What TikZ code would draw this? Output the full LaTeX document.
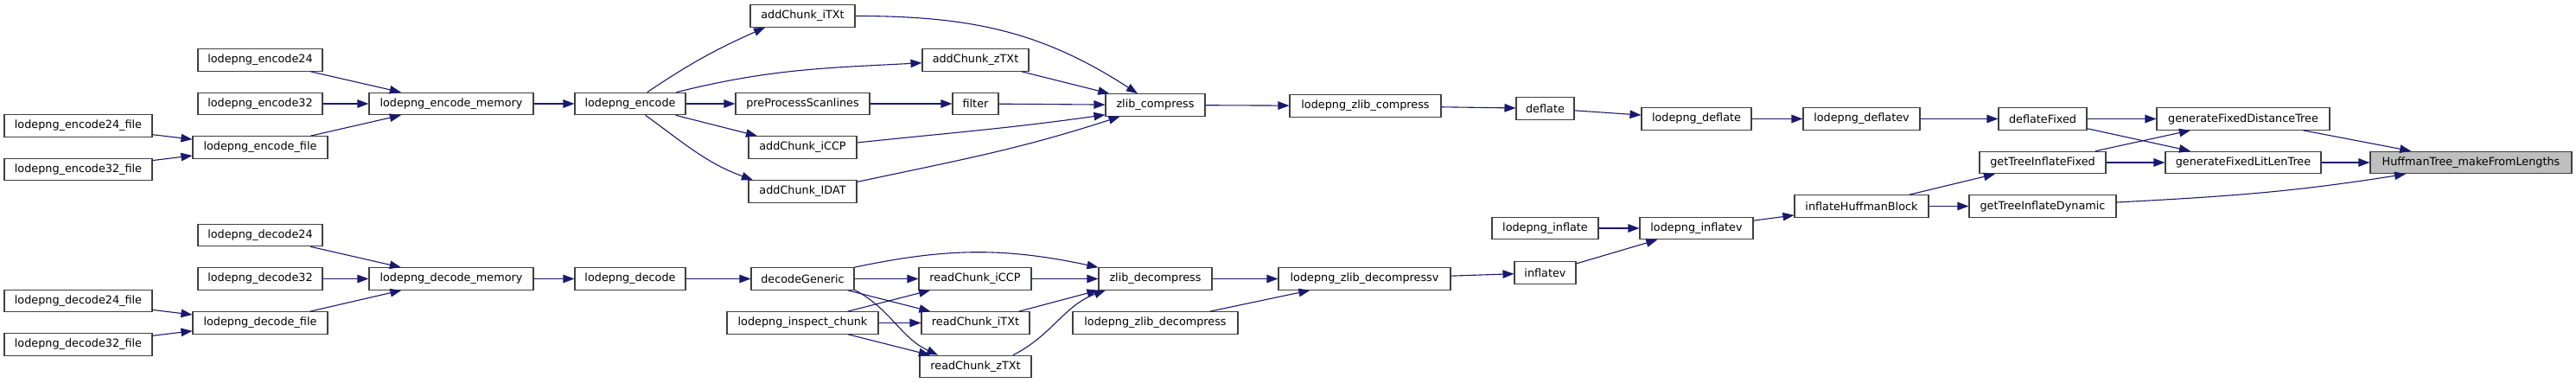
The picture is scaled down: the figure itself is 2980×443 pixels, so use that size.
\documentclass[tikz,border=0pt]{standalone}
\usepackage{fontspec}
\setmainfont{DejaVu Sans}
\usetikzlibrary{arrows.meta}
\definecolor{edgec}{HTML}{191970}
\definecolor{boxc}{HTML}{404040}
\definecolor{hl}{HTML}{BFBFBF}
\begin{document}
\begin{tikzpicture}[x=1pt,y=1pt,
  fn/.style={draw=boxc, line width=1.1pt, fill=white, inner sep=0pt, minimum height=25.5pt,
             font=\fontsize{12.8}{15}\selectfont, text=black},
  e/.style={draw=edgec, line width=1.1pt, -{Triangle[length=13pt,width=9.5pt]}}]
\useasboundingbox (0,0) rectangle (2980,-443);
\fill[white] (0,0) rectangle (2980,-443);
% encode side
\node[fn, minimum width=144pt] (enc24) at (301,-69.5) {lodepng\_encode24};
\node[fn, minimum width=144pt] (enc32) at (301,-120) {lodepng\_encode32};
\node[fn, minimum width=171pt] (enc24f) at (90.5,-145.5) {lodepng\_encode24\_file};
\node[fn, minimum width=171pt] (enc32f) at (90.5,-196) {lodepng\_encode32\_file};
\node[fn, minimum width=156pt] (encfile) at (301,-170.5) {lodepng\_encode\_file};
\node[fn, minimum width=190pt] (encmem) at (522,-120) {lodepng\_encode\_memory};
% decode side
\node[fn, minimum width=144pt] (dec24) at (301,-272) {lodepng\_decode24};
\node[fn, minimum width=144pt] (dec32) at (301,-322.5) {lodepng\_decode32};
\node[fn, minimum width=171pt] (dec24f) at (90.5,-348) {lodepng\_decode24\_file};
\node[fn, minimum width=171pt] (dec32f) at (90.5,-398.5) {lodepng\_decode32\_file};
\node[fn, minimum width=156pt] (decfile) at (301,-373.5) {lodepng\_decode\_file};
\node[fn, minimum width=190pt] (decmem) at (522,-322.5) {lodepng\_decode\_memory};
\node[fn, minimum width=128pt] (lenc) at (729,-120) {lodepng\_encode};
\node[fn, minimum width=128pt] (ldec) at (729,-322.5) {lodepng\_decode};
\node[fn, minimum width=121pt] (aiTXt) at (928.5,-18.5) {addChunk\_iTXt};
\node[fn, minimum width=155pt] (pre) at (928.5,-120) {preProcessScanlines};
\node[fn, minimum width=125pt] (aiCCP) at (928.5,-170.5) {addChunk\_iCCP};
\node[fn, minimum width=125pt] (aIDAT) at (928.5,-221.5) {addChunk\_IDAT};
\node[fn, minimum width=119pt] (dg) at (928.5,-322.5) {decodeGeneric};
\node[fn, minimum width=175pt] (insp) at (928.5,-373.5) {lodepng\_inspect\_chunk};
\node[fn, minimum width=123pt] (azTXt) at (1128.5,-69.5) {addChunk\_zTXt};
\node[fn, minimum width=53pt] (filter) at (1128.5,-120) {filter};
\node[fn, minimum width=115pt] (zc) at (1336.5,-121.5) {zlib\_compress};
\node[fn, minimum width=130pt] (riCCP) at (1128,-322.5) {readChunk\_iCCP};
\node[fn, minimum width=125pt] (riTXt) at (1128.5,-373.5) {readChunk\_iTXt};
\node[fn, minimum width=129pt] (rzTXt) at (1128.5,-424) {readChunk\_zTXt};
\node[fn, minimum width=131pt] (zd) at (1336.5,-322.5) {zlib\_decompress};
\node[fn, minimum width=191pt] (lzd) at (1336.5,-373.5) {lodepng\_zlib\_decompress};
\node[fn, minimum width=175pt] (lzc) at (1579.5,-122.5) {lodepng\_zlib\_compress};
\node[fn, minimum width=199pt] (lzdv) at (1578.5,-322.5) {lodepng\_zlib\_decompressv};
\node[fn, minimum width=67pt] (deflate) at (1787.5,-125.5) {deflate};
\node[fn, minimum width=127pt] (ldefl) at (1962.5,-137.5) {lodepng\_deflate};
\node[fn, minimum width=123pt] (linfl) at (1787.5,-264) {lodepng\_inflate};
\node[fn, minimum width=131pt] (linflv) at (1962.5,-264) {lodepng\_inflatev};
\node[fn, minimum width=71pt] (inflatev) at (1787.5,-315.5) {inflatev};
\node[fn, minimum width=135pt] (ldeflv) at (2153.5,-137.5) {lodepng\_deflatev};
\node[fn, minimum width=155pt] (ihb) at (2153.5,-238.5) {inflateHuffmanBlock};
\node[fn, minimum width=102pt] (dfix) at (2363,-137.5) {deflateFixed};
\node[fn, minimum width=146pt] (gtif) at (2363,-188) {getTreeInflateFixed};
\node[fn, minimum width=170pt] (gtid) at (2363,-238.5) {getTreeInflateDynamic};
\node[fn, minimum width=200pt] (gfdt) at (2595,-137.5) {generateFixedDistanceTree};
\node[fn, minimum width=180pt] (gflt) at (2595,-188) {generateFixedLitLenTree};
\node[fn, minimum width=233pt, fill=hl] (huff) at (2858.5,-188) {HuffmanTree\_makeFromLengths};
% edges: encode side
\draw[e] (enc24) -- (encmem);
\draw[e] (enc32) -- (encmem);
\draw[e] (encfile) -- (encmem);
\draw[e] (enc24f) -- (encfile);
\draw[e] (enc32f) -- (encfile);
\draw[e] (dec24) -- (decmem);
\draw[e] (dec32) -- (decmem);
\draw[e] (decfile) -- (decmem);
\draw[e] (dec24f) -- (decfile);
\draw[e] (dec32f) -- (decfile);
\draw[e] (encmem) -- (lenc);
\draw[e] (decmem) -- (ldec);
\draw[e] (lenc.34) to[out=34,in=204] (aiTXt.197);
\draw[e] (lenc.14) to[out=14,in=183] (azTXt.183);
\draw[e] (lenc) -- (pre);
\draw[e] (lenc) -- (aiCCP);
\draw[e] (lenc.-37) to[out=-36,in=160] (aIDAT.167);
\draw[e] (aiTXt.east) to[out=0,in=147] (zc.147);
\draw[e] (azTXt) -- (zc);
\draw[e] (pre) -- (filter);
\draw[e] (filter) -- (zc);
\draw[e] (aiCCP.5) to[out=6,in=188] (zc.191);
\draw[e] (aIDAT.10) to[out=12,in=198] (zc.198);
\draw[e] (zc) -- (lzc);
\draw[e] (lzc) -- (deflate);
\draw[e] (deflate) -- (ldefl);
\draw[e] (ldefl) -- (ldeflv);
\draw[e] (ldeflv) -- (dfix);
\draw[e] (dfix) -- (gfdt);
\draw[e] (dfix) -- (gflt);
\draw[e] (gtif) -- (gfdt);
\draw[e] (gtif) -- (gflt);
\draw[e] (gfdt) -- (huff);
\draw[e] (gflt) -- (huff);
\draw[e] (gtid.3) to[out=3,in=189] (huff.190);
\draw[e] (ihb) -- (gtif);
\draw[e] (ihb) -- (gtid);
\draw[e] (linflv) -- (ihb);
\draw[e] (linfl) -- (linflv);
\draw[e] (inflatev) -- (linflv);
\draw[e] (lzdv) -- (inflatev);
\draw[e] (zd) -- (lzdv);
\draw[e] (lzd) -- (lzdv);
% decode side
\draw[e] (ldec) -- (dg);
\draw[e] (dg.north east) to[out=12,in=168] (zd.north west);
\draw[e] (dg) -- (riCCP);
\draw[e] (dg) -- (riTXt);
\draw[e] (dg.-12.5) to[out=-28,in=155] (rzTXt.163);
\draw[e] (insp) -- (riCCP);
\draw[e] (insp) -- (riTXt);
\draw[e] (insp) -- (rzTXt);
\draw[e] (riCCP) -- (zd);
\draw[e] (riTXt) -- (zd.south west);
\draw[e] (rzTXt.17) to[out=27,in=200] (zd.193);
\end{tikzpicture}
\end{document}
